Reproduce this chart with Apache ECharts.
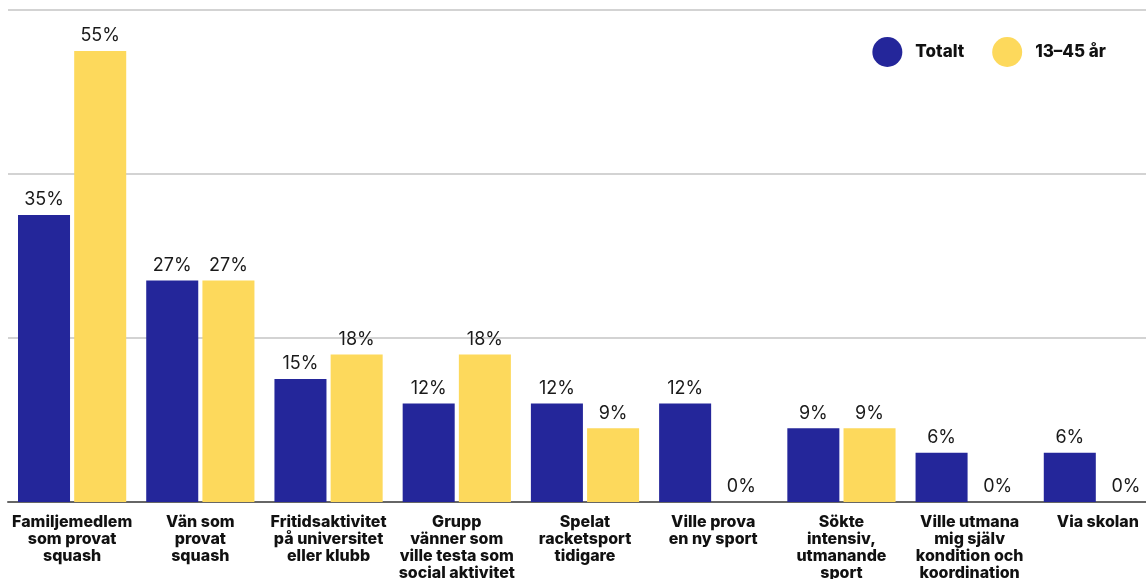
<!DOCTYPE html>
<html>
<head>
<meta charset="utf-8">
<script src="https://cdn.jsdelivr.net/npm/echarts@6/dist/echarts.min.js"></script>
<style>
  html, body { margin: 0; padding: 0; background: #fff; }
  #chart { width: 1146px; height: 579px; }
</style>
</head>
<body>
<div id="chart"></div>
<script>
// categories (line breaks as in the original)
var categories = [
  'Familjemedlem\nsom provat\nsquash',
  'Vän som\nprovat\nsquash',
  'Fritidsaktivitet\npå universitet\neller klubb',
  'Grupp\nvänner som\nville testa som\nsocial aktivitet',
  'Spelat\nracketsport\ntidigare',
  'Ville prova\nen ny sport',
  'Sökte\nintensiv,\nutmanande\nsport',
  'Ville utmana\nmig själv\nkondition och\nkoordination',
  'Via skolan'
]
var totalt = [35, 27, 15, 12, 12, 12, 9, 6, 6]
var ung = [55, 27, 18, 18, 9, 0, 9, 0, 0]
var seriesNames = ['Totalt', '13–45 år']

var fontFamily = 'Inter, "Open Sans", sans-serif'

var chart = echarts.init(document.getElementById('chart'))
chart.setOption({
  animation: false,
  textStyle: { fontFamily: fontFamily },
  legend: {
    right: 35,
    top: 32,
    icon: 'circle',
    itemWidth: 30,
    itemHeight: 30,
    itemGap: 28,
    textStyle: {
      fontSize: 17,
      fontWeight: 800,
      color: '#111',
      fontFamily: fontFamily,
      padding: [0, 0, 0, 8]
    },
    data: seriesNames
  },
  grid: {
    left: 8,
    width: 1154,
    top: 10,
    height: 492,
    containLabel: false,
    outerBoundsMode: 'none'
  },
  xAxis: {
    type: 'category',
    data: categories,
    axisTick: { show: false },
    axisLine: { lineStyle: { color: '#666', width: 2 } },
    axisLabel: {
      interval: 0,
      margin: 12,
      fontSize: 16,
      fontWeight: 800,
      lineHeight: 17,
      color: '#111',
      fontFamily: fontFamily
    }
  },
  yAxis: {
    type: 'value',
    min: 0,
    max: 60,
    interval: 20,
    axisLabel: { show: false },
    axisLine: { show: false },
    axisTick: { show: false },
    splitLine: { lineStyle: { color: '#c4c4c4', width: 1.5 } }
  },
  series: [
    {
      name: seriesNames[0],
      type: 'bar',
      data: totalt,
      barGap: '8%',
      barCategoryGap: '15.6%',
      itemStyle: { color: '#24269a' },
      label: {
        show: true,
        position: 'top',
        distance: 6,
        formatter: '{c}%',
        fontSize: 18,
        color: '#1a1a1a',
        fontFamily: fontFamily
      }
    },
    {
      name: seriesNames[1],
      type: 'bar',
      data: ung,
      itemStyle: { color: '#fdd95c' },
      label: {
        show: true,
        position: 'top',
        distance: 6,
        formatter: '{c}%',
        fontSize: 18,
        color: '#1a1a1a',
        fontFamily: fontFamily
      }
    }
  ]
})
</script>
</body>
</html>
